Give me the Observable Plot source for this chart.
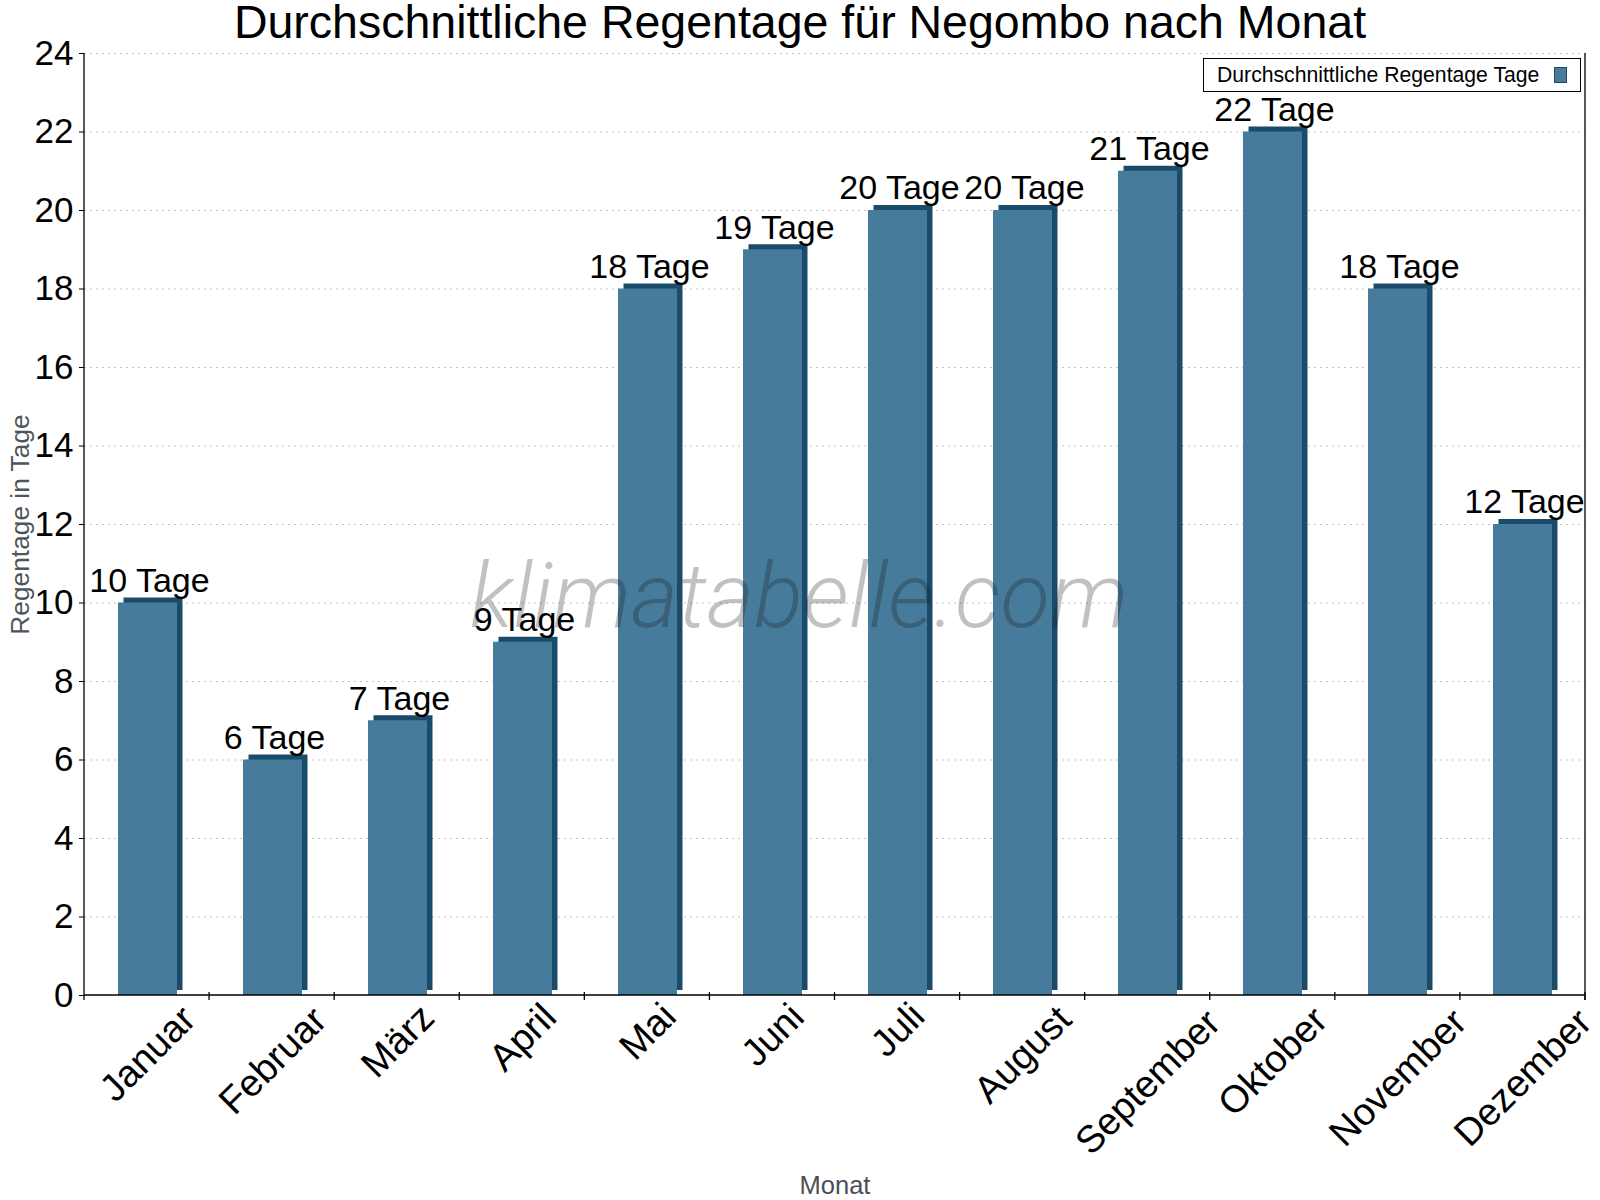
<!DOCTYPE html>
<html>
<head>
<meta charset="utf-8">
<script src="https://cdn.jsdelivr.net/npm/d3@7"></script>
<script src="https://cdn.jsdelivr.net/npm/@observablehq/plot@0.6"></script>
<style>
  body { margin: 0; background: #fff; }
  #wrap { position: relative; width: 1600px; height: 1200px; font-family: "Liberation Sans", Arial, sans-serif; }
  #title { position: absolute; left: 0; top: 0; width: 1600px; text-align: center; font-size: 46.5px; line-height: 44px; color: #000; white-space: nowrap; }
  #legend { position: absolute; left: 1203px; top: 58px; width: 376px; height: 32px; border: 1px solid #000; background: #fff; }
  #legend .txt { position: absolute; left: 13px; top: 5px; font-size: 21.2px; line-height: 21px; color: #000; white-space: nowrap; }
  #legend .sw { position: absolute; left: 350px; top: 8px; width: 11px; height: 14px; border: 1px solid #1b4b6b; background: #467b9b; }
  #chart svg { display: block; }
</style>
</head>
<body>
<div id="wrap">
  <div id="chart"></div>
  <div id="title">Durchschnittliche Regentage für Negombo nach Monat</div>
  <div id="legend"><span class="txt">Durchschnittliche Regentage Tage</span><span class="sw"></span></div>
</div>
<script>
const months = ["Januar", "Februar", "März", "April", "Mai", "Juni", "Juli", "August", "September", "Oktober", "November", "Dezember"];
const rainDays = [10, 6, 7, 9, 18, 19, 20, 20, 21, 22, 18, 12];
const yTicks = [0, 2, 4, 6, 8, 10, 12, 14, 16, 18, 20, 22, 24];
const unit = "Tage";
const title = "Durchschnittliche Regentage für Negombo nach Monat";
const yLabel = "Regentage in Tage";
const xLabel = "Monat";
const watermark = "klimatabelle.com";

const data = months.map((m, i) => ({month: m, days: rainDays[i]}));

const FRONT = "#467b9b";
const DARK = "#1b4b6b";

// measure label widths to place rotated month labels like the original
const ctx = document.createElement("canvas").getContext("2d");
ctx.font = "35px 'Liberation Sans'";

const xLabelMarks = months.map(m => Plot.text([m], {
  x: d => d,
  text: d => d,
  frameAnchor: "bottom",
  lineAnchor: "middle",
  textAnchor: "middle",
  rotate: -45,
  fontSize: 38,
  fill: "#000",
  dy: 11.5 + 0.44 * ctx.measureText(m).width
}));

// frame lines and band-boundary ticks, computed from the plot's dimensions
const frameMark = (index, scales, values, dims) => {
  const {width, height, marginLeft, marginRight, marginTop, marginBottom} = dims;
  const x0 = marginLeft, x1 = width - marginRight, y0 = marginTop, y1 = height - marginBottom;
  const step = (x1 - x0) / months.length;
  const g = d3.create("svg:g").attr("stroke", "#000").attr("stroke-width", 1.3).attr("fill", "none");
  g.append("line").attr("x1", x0).attr("x2", x0).attr("y1", y0).attr("y2", y1 + 5);
  g.append("line").attr("x1", x1).attr("x2", x1).attr("y1", y0).attr("y2", y1 + 5);
  g.append("line").attr("x1", x0).attr("x2", x1).attr("y1", y1).attr("y2", y1);
  months.forEach((m, i) => {
    const xb = x0 + step * (i + 1);
    g.append("line").attr("x1", xb).attr("x2", xb).attr("y1", y1 - 3).attr("y2", y1 + 5);
  });
  return g.node();
};

const plot = Plot.plot({
  width: 1600,
  height: 1200,
  marginLeft: 84,
  marginRight: 15,
  marginTop: 53,
  marginBottom: 205,
  style: {fontFamily: "'Liberation Sans', Arial, sans-serif", background: "#fff", overflow: "visible"},
  x: {domain: months, padding: 0, axis: null},
  y: {domain: [0, 24], label: null},
  marks: [
    Plot.gridY(yTicks.filter(t => t > 0), {stroke: "#c4c4c4", strokeOpacity: 1, strokeWidth: 1, strokeDasharray: "2,4"}),
    Plot.barY(data, {x: "month", y: "days", fill: DARK, insetLeft: 33, insetRight: 33, dx: 5.5, dy: -5}),
    Plot.barY(data, {x: "month", y: "days", fill: FRONT, insetLeft: 33, insetRight: 33}),
    Plot.text(data, {x: "month", y: "days", text: d => `${d.days} ${unit}`, fontSize: 34, fill: "#000", dx: 1.5, dy: -22, lineAnchor: "middle", textAnchor: "middle"}),
    frameMark,
    Plot.axisY({ticks: yTicks, tickSize: 5, tickPadding: 6, fontSize: 35, label: null, stroke: "#000", fill: "#000"}),
    ...xLabelMarks,
    Plot.text([yLabel], {frameAnchor: "left", textAnchor: "middle", lineAnchor: "middle", rotate: -90, dx: -64, fontSize: 26.3, fill: "#50555c", text: d => d}),
    Plot.text([xLabel], {frameAnchor: "bottom", textAnchor: "middle", lineAnchor: "middle", dy: 190, fontSize: 25.5, fill: "#4a4f57", text: d => d}),
    Plot.text([watermark], {frameAnchor: "middle", textAnchor: "middle", lineAnchor: "middle", dx: -36, dy: 73, fontSize: 91, fontStyle: "italic", fontWeight: 300, fontFamily: "Roboto, 'Liberation Sans', sans-serif", fill: "#1a1a1a", fillOpacity: 0.27, text: d => d})
  ]
});
document.getElementById("chart").appendChild(plot);
document.getElementById("title").textContent = title;
</script>
</body>
</html>
